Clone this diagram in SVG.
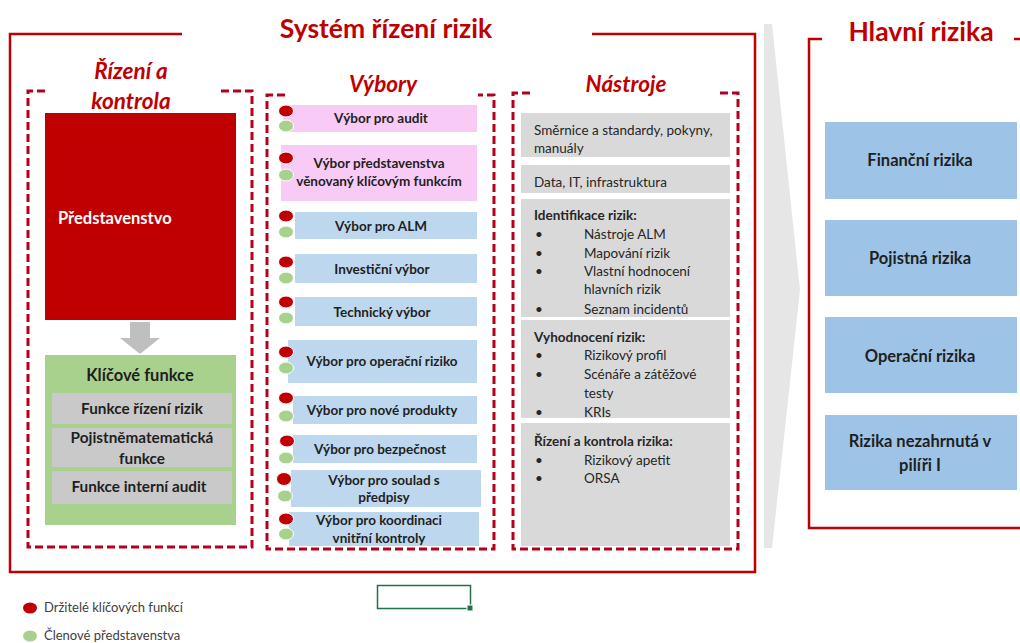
<svg xmlns="http://www.w3.org/2000/svg" width="1020" height="643" viewBox="0 0 1020 643">
<style>
.solid{fill:none;stroke:#c00000;stroke-width:2.5}
.dash{fill:none;stroke:#b5001d;stroke-width:3;stroke-dasharray:8 4}
.title{font-family:Lato,"Open Sans",sans-serif;font-weight:bold;fill:#c00000;text-anchor:middle}
.ttl{font-size:26.5px}
.sub{font-size:22.5px;font-style:italic}
.lbl{font-family:Lato,"Open Sans",sans-serif;font-weight:bold;font-size:13.5px;fill:#1f1f1f;text-anchor:middle}
.big{font-size:16.5px}
.mid{font-size:15.3px}
.txt{font-family:Lato,"Open Sans",sans-serif;font-size:13.5px;fill:#262626}
.b{font-weight:bold}
.pink{fill:#f8cbf6}
.blue{fill:#bdd7ee}
.gray{fill:#d9d9d9}
.rblue{fill:#9dc3e6}
.dr{fill:#c00000;stroke:#fff;stroke-width:1}
.dg{fill:#a9d18e;stroke:#fff;stroke-width:1}
.leg{font-family:Lato,"Open Sans",sans-serif;font-size:13px;fill:#404040}
</style>

<!-- chevron background -->
<polygon points="764,24 772,24 800,290 772,548 764,548" fill="#e6e6e6"/>

<!-- outer frames -->
<g id="frame-system">
<path class="solid" d="M182,34 H10 V572 H755 V34 H592"/>
<text class="title ttl" x="386" y="38">Systém řízení rizik</text>
</g>
<g id="frame-hlavni">
<path class="solid" d="M822,39 H809 V528 H1022"/>
<path class="solid" d="M1014,39 H1022"/>
<text class="title ttl" x="921" y="41">Hlavní rizika</text>
</g>

<!-- Řízení a kontrola -->
<g id="frame-rizeni">
<path class="dash" d="M45,91 H28 V547 H252 V91 H218"/>
<text class="title sub" x="131" y="79">Řízení a</text>
<text class="title sub" x="131" y="109">kontrola</text>
</g>
<g id="predstavenstvo">
<rect x="45" y="113" width="191" height="207" fill="#c00000"/>
<text x="58" y="224" font-family="Lato,'Open Sans',sans-serif" font-weight="bold" font-size="16.5" fill="#fff">Představenstvo</text>
</g>
<g id="connectors">
<polygon points="130,322 150,322 150,338 160,338 140,354 120,338 130,338" fill="#bfbfbf"/>
</g>
<g id="klicove-funkce">
<rect x="45" y="355" width="191" height="170" fill="#a9d18e"/>
<text class="lbl big" x="140" y="381">Klíčové funkce</text>
<rect x="52" y="393" width="180" height="31" fill="#c9c9c9"/>
<text class="lbl mid" x="142" y="414">Funkce řízení rizik</text>
<rect x="52" y="428" width="180" height="39" fill="#c9c9c9"/>
<text class="lbl mid" x="142" y="443">Pojistněmatematická</text>
<text class="lbl mid" x="142" y="464">funkce</text>
<rect x="52" y="471" width="180" height="33" fill="#c9c9c9"/>
<text class="lbl mid" x="139" y="492">Funkce interní audit</text>
</g>

<!-- Výbory -->
<g id="frame-vybory">
<path class="dash" d="M285,95 H267 V549 H494 V95 H478"/>
<text class="title sub" x="383" y="92">Výbory</text>
</g>
<g id="v1"><rect class="pink" x="283" y="105" width="194" height="27"/><text class="lbl" x="381" y="123">Výbor pro audit</text><ellipse class="dr" cx="286" cy="111" rx="7.5" ry="6"/><ellipse class="dg" cx="286" cy="126" rx="7.5" ry="6"/></g>
<g id="v2"><rect class="pink" x="281" y="145" width="196" height="56"/><text class="lbl" x="379" y="168">Výbor představenstva</text><text class="lbl" x="379" y="186">věnovaný klíčovým funkcím</text><ellipse class="dr" cx="286" cy="158" rx="7.5" ry="6"/><ellipse class="dg" cx="286" cy="175" rx="7.5" ry="6"/></g>
<g id="v3"><rect class="blue" x="295" y="212" width="182" height="27"/><text class="lbl" x="381" y="231">Výbor pro ALM</text><ellipse class="dr" cx="286" cy="216" rx="7.5" ry="6"/><ellipse class="dg" cx="286" cy="232" rx="7.5" ry="6"/></g>
<g id="v4"><rect class="blue" x="295" y="254" width="182" height="29"/><text class="lbl" x="382" y="274">Investiční výbor</text><ellipse class="dr" cx="286" cy="262" rx="7.5" ry="6"/><ellipse class="dg" cx="286" cy="278" rx="7.5" ry="6"/></g>
<g id="v5"><rect class="blue" x="295" y="297" width="182" height="29"/><text class="lbl" x="382" y="317">Technický výbor</text><ellipse class="dr" cx="286" cy="302" rx="7.5" ry="6"/><ellipse class="dg" cx="286" cy="318" rx="7.5" ry="6"/></g>
<g id="v6"><rect class="blue" x="288" y="340" width="189" height="43" /><text class="lbl" x="382" y="366">Výbor pro operační riziko</text><ellipse class="dr" cx="286" cy="352" rx="7.5" ry="6"/><ellipse class="dg" cx="286" cy="368" rx="7.5" ry="6"/></g>
<g id="v7"><rect class="blue" x="293" y="396" width="184" height="28"/><text class="lbl" x="382" y="415">Výbor pro nové produkty</text><ellipse class="dr" cx="286" cy="398" rx="7.5" ry="6"/><ellipse class="dg" cx="286" cy="416" rx="7.5" ry="6"/></g>
<g id="v8"><rect class="blue" x="293" y="435" width="184" height="28"/><text class="lbl" x="380" y="454">Výbor pro bezpečnost</text><ellipse class="dr" cx="287" cy="441" rx="7.5" ry="6"/><ellipse class="dg" cx="286" cy="458" rx="7.5" ry="6"/></g>
<g id="v9"><rect class="blue" x="291" y="470" width="190" height="37"/><text class="lbl" x="384" y="485">Výbor pro soulad s</text><text class="lbl" x="384" y="502">předpisy</text><ellipse class="dr" cx="284" cy="479" rx="7.5" ry="6.5"/><ellipse class="dg" cx="285" cy="496" rx="7.5" ry="6"/></g>
<g id="v10"><rect class="blue" x="289" y="512" width="190" height="34"/><text class="lbl" x="379" y="525">Výbor pro koordinaci</text><text class="lbl" x="379" y="543">vnitřní kontroly</text><ellipse class="dr" cx="286" cy="519" rx="7.5" ry="6"/><ellipse class="dg" cx="286" cy="534" rx="7.5" ry="6"/></g>

<!-- Nástroje -->
<g id="frame-nastroje">
<path class="dash" d="M530,93 H513 V549 H738 V93 H720"/>
<text class="title sub" x="626" y="92">Nástroje</text>
</g>
<g id="n1"><rect class="gray" x="521" y="113" width="209" height="44"/><text class="txt" x="534" y="135">Směrnice a standardy, pokyny,</text><text class="txt" x="534" y="153">manuály</text></g>
<g id="n2"><rect class="gray" x="521" y="165" width="209" height="28"/><text class="txt" x="534" y="187">Data, IT, infrastruktura</text></g>
<g id="n3"><rect class="gray" x="521" y="199" width="209" height="118"/>
<text class="txt b" x="534" y="220">Identifikace rizik:</text>
<g class="txt"><text x="535" y="239">•</text><text x="584" y="239">Nástroje ALM</text><text x="535" y="258">•</text><text x="584" y="258">Mapování rizik</text><text x="535" y="276">•</text><text x="584" y="276">Vlastní hodnocení</text><text x="584" y="294">hlavních rizik</text><text x="535" y="314">•</text><text x="584" y="314">Seznam incidentů</text></g></g>
<g id="n4"><rect class="gray" x="521" y="320" width="209" height="98"/>
<text class="txt b" x="534" y="342">Vyhodnocení rizik:</text>
<g class="txt"><text x="535" y="360">•</text><text x="584" y="360">Rizikový profil</text><text x="535" y="379">•</text><text x="584" y="379">Scénáře a zátěžové</text><text x="584" y="398">testy</text><text x="535" y="417">•</text><text x="584" y="417">KRIs</text></g></g>
<g id="n5"><rect class="gray" x="521" y="423" width="209" height="123"/>
<text class="txt b" x="534" y="446">Řízení a kontrola rizika:</text>
<g class="txt"><text x="535" y="465">•</text><text x="584" y="465">Rizikový apetit</text><text x="535" y="483">•</text><text x="584" y="483">ORSA</text></g></g>

<!-- Hlavní rizika boxes -->
<g id="r1"><rect class="rblue" x="825" y="122" width="192" height="77"/><text class="lbl big" x="920" y="166">Finanční rizika</text></g>
<g id="r2"><rect class="rblue" x="825" y="220" width="192" height="76"/><text class="lbl big" x="920" y="264">Pojistná rizika</text></g>
<g id="r3"><rect class="rblue" x="825" y="317" width="192" height="76"/><text class="lbl big" x="920" y="362">Operační rizika</text></g>
<g id="r4"><rect class="rblue" x="825" y="415" width="192" height="75"/><text class="lbl big" x="920" y="447">Rizika nezahrnutá v</text><text class="lbl big" x="920" y="471">pilíři I</text></g>

<!-- selection rect -->
<g id="selection">
<rect x="377.5" y="585.5" width="93" height="23" fill="none" stroke="#217346" stroke-width="1.5"/>
<rect x="467" y="605" width="6" height="6" fill="#217346" stroke="#fff" stroke-width="1"/>
</g>

<!-- legend -->
<g id="legend">
<ellipse cx="30" cy="608" rx="7" ry="5.5" fill="#c00000"/>
<text class="leg" x="44" y="612">Držitelé klíčových funkcí</text>
<ellipse cx="30" cy="636" rx="7" ry="5.5" fill="#a9d18e"/>
<text class="leg" x="44" y="640">Členové představenstva</text>
</g>
</svg>
